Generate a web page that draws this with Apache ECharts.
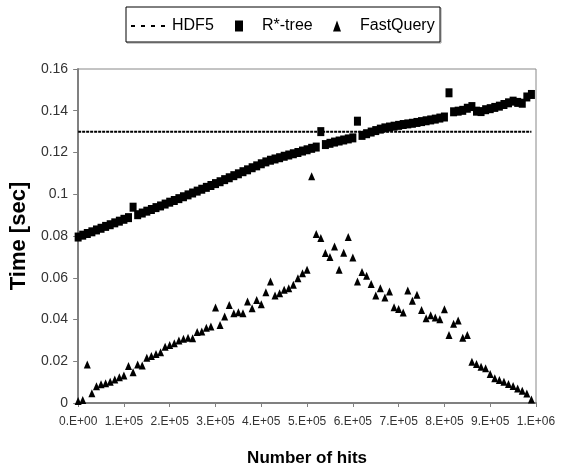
<!DOCTYPE html>
<html>
<head>
<meta charset="utf-8">
<script src="https://cdn.jsdelivr.net/npm/echarts@6/dist/echarts.min.js"></script>
<style>
html,body{margin:0;padding:0;background:#fff;}
#main{width:561px;height:472px;}
</style>
</head>
<body>
<div id="main"></div>
<script>
/* data, one point every 1E+04 hits */
var hits = [
	0, 10000, 20000, 30000, 40000, 50000, 60000, 70000, 80000, 90000,
	100000, 110000, 120000, 130000, 140000, 150000, 160000, 170000, 180000, 190000,
	200000, 210000, 220000, 230000, 240000, 250000, 260000, 270000, 280000, 290000,
	300000, 310000, 320000, 330000, 340000, 350000, 360000, 370000, 380000, 390000,
	400000, 410000, 420000, 430000, 440000, 450000, 460000, 470000, 480000, 490000,
	500000, 510000, 520000, 530000, 540000, 550000, 560000, 570000, 580000, 590000,
	600000, 610000, 620000, 630000, 640000, 650000, 660000, 670000, 680000, 690000,
	700000, 710000, 720000, 730000, 740000, 750000, 760000, 770000, 780000, 790000,
	800000, 810000, 820000, 830000, 840000, 850000, 860000, 870000, 880000, 890000,
	900000, 910000, 920000, 930000, 940000, 950000, 960000, 970000, 980000, 990000
];
var rtreeTime = [
	0.0795, 0.0804, 0.0812, 0.0820, 0.0829, 0.0837, 0.0846, 0.0854, 0.0863, 0.0871,
	0.0880, 0.0888, 0.0938, 0.0902, 0.0910, 0.0919, 0.0927, 0.0936, 0.0944, 0.0953,
	0.0962, 0.0970, 0.0979, 0.0988, 0.0997, 0.1006, 0.1015, 0.1024, 0.1033, 0.1042,
	0.1051, 0.1060, 0.1070, 0.1079, 0.1089, 0.1098, 0.1108, 0.1117, 0.1127, 0.1136,
	0.1146, 0.1155, 0.1163, 0.1169, 0.1175, 0.1182, 0.1188, 0.1194, 0.1200, 0.1207,
	0.1213, 0.1220, 0.1226, 0.1300, 0.1238, 0.1244, 0.1250, 0.1255, 0.1260, 0.1265,
	0.1270, 0.1350, 0.1282, 0.1290, 0.1298, 0.1305, 0.1312, 0.1318, 0.1322, 0.1326,
	0.1330, 0.1334, 0.1337, 0.1340, 0.1344, 0.1348, 0.1352, 0.1356, 0.1360, 0.1365,
	0.1370, 0.1486, 0.1395, 0.1398, 0.1402, 0.1412, 0.1420, 0.1398, 0.1396, 0.1405,
	0.1410, 0.1416, 0.1422, 0.1430, 0.1438, 0.1446, 0.1440, 0.1436, 0.1466, 0.1478
];
var fastqueryTime = [
	0.0010, 0.0014, 0.0185, 0.0047, 0.0080, 0.0090, 0.0095, 0.0102, 0.0113, 0.0123,
	0.0132, 0.0177, 0.0147, 0.0185, 0.0180, 0.0217, 0.0225, 0.0235, 0.0243, 0.0270,
	0.0278, 0.0286, 0.0299, 0.0308, 0.0313, 0.0310, 0.0340, 0.0342, 0.0360, 0.0366,
	0.0457, 0.0374, 0.0414, 0.0470, 0.0430, 0.0435, 0.0430, 0.0486, 0.0454, 0.0494,
	0.0473, 0.0530, 0.0582, 0.0515, 0.0526, 0.0542, 0.0550, 0.0566, 0.0598, 0.0622,
	0.0638, 0.1086, 0.0810, 0.0790, 0.0718, 0.0700, 0.0750, 0.0638, 0.0720, 0.0795,
	0.0697, 0.0582, 0.0627, 0.0610, 0.0570, 0.0515, 0.0550, 0.0505, 0.0534, 0.0459,
	0.0450, 0.0433, 0.0539, 0.0490, 0.0518, 0.0445, 0.0406, 0.0420, 0.0410, 0.0401,
	0.0449, 0.0326, 0.0380, 0.0395, 0.0312, 0.0326, 0.0198, 0.0187, 0.0174, 0.0166,
	0.0139, 0.0118, 0.0110, 0.0102, 0.0091, 0.0081, 0.0070, 0.0059, 0.0046, 0.0017
];
// HDF5 is flat, only the two ends
var hdf5Hits = [0, 990000];
var hdf5Time = [0.13, 0.13];
var xTickLabels = ['0.E+00', '1.E+05', '2.E+05', '3.E+05', '4.E+05', '5.E+05', '6.E+05', '7.E+05', '8.E+05', '9.E+05', '1.E+06'];

function pairs(xs, ys) {
	var out = [];
	for(var i = 0; i < xs.length; i++) {
		out.push([xs[i], ys[i]]);
	}
	return out;
}

var myChart = echarts.init(document.getElementById('main'));
var sans = '"Liberation Sans", Arial, sans-serif';
//legend icon for the dotted line: four short dashes
var dashIcon = 'path://M0,0h4v2h-4z M10,0h4v2h-4z M20,0h4v2h-4z M30,0h4v2h-4z';

var option = {
	animation: false,
	backgroundColor: '#fff',
	graphic: [{
		type: 'rect',
		shape: {x: 127, y: 8, width: 314, height: 35},
		style: {fill: 'none', stroke: '#999', lineWidth: 1},
		z: 1
	}, {
		type: 'rect',
		shape: {x: 126, y: 7, width: 314, height: 35},
		style: {fill: '#fff', stroke: '#000', lineWidth: 1},
		z: 2
	}],
	legend: [{
		data: [{name: 'HDF5', icon: dashIcon}],
		left: 131, top: 18, padding: 0,
		itemWidth: 34, itemHeight: 2,
		symbolKeepAspect: false,
		itemStyle: {color: '#000'},
		textStyle: {fontFamily: sans, fontSize: 16, color: '#000', padding: [0, 0, 0, 2]},
		z: 5
	}, {
		data: ['R*-tree'],
		left: 235, top: 18, padding: 0,
		itemWidth: 8, itemHeight: 11,
		symbolKeepAspect: false,
		textStyle: {fontFamily: sans, fontSize: 16, color: '#000', padding: [0, 0, 0, 14]},
		z: 5
	}, {
		data: ['FastQuery'],
		left: 333, top: 18, padding: 0,
		itemWidth: 8, itemHeight: 11,
		symbolKeepAspect: false,
		textStyle: {fontFamily: sans, fontSize: 16, color: '#000', padding: [0, 0, 0, 14]},
		z: 5
	}],
	grid: {
		left: 72, right: 25, top: 69, bottom: 69,
		show: true, borderColor: '#888', borderWidth: 1
	},
	xAxis: {
		type: 'value',
		min: 0, max: 1000000, interval: 100000,
		name: 'Number of hits',
		nameLocation: 'middle',
		nameGap: 47,
		nameTextStyle: {fontFamily: sans, fontSize: 17, fontWeight: 'bold', color: '#000'},
		axisLine: {lineStyle: {color: '#808080', width: 2}},
		axisTick: {show: true, inside: false, length: 4, lineStyle: {color: '#808080'}},
		splitLine: {show: false},
		axisLabel: {
			margin: 13,
			fontFamily: sans, fontSize: 12, color: '#333',
			formatter: function(v) {
				return xTickLabels[Math.round(v / 100000)];
			}
		}
	},
	yAxis: {
		type: 'value',
		min: 0, max: 0.16, interval: 0.02,
		name: 'Time [sec]',
		nameLocation: 'middle',
		nameRotate: 90,
		nameGap: 28,
		nameTextStyle: {fontFamily: sans, fontSize: 22, fontWeight: 'bold', color: '#000'},
		axisLine: {show: true, lineStyle: {color: '#808080', width: 2}},
		axisTick: {show: true, inside: false, length: 5, lineStyle: {color: '#808080'}},
		splitLine: {show: false},
		axisLabel: {margin: 10, fontFamily: sans, fontSize: 14, color: '#333'}
	},
	series: [{
		name: 'HDF5',
		type: 'line',
		symbol: 'none',
		lineStyle: {color: '#000', width: 2, type: [3, 1]},
		itemStyle: {color: '#000'},
		data: pairs(hdf5Hits, hdf5Time)
	}, {
		name: 'R*-tree',
		type: 'scatter',
		symbol: 'rect',
		symbolSize: [7, 9],
		itemStyle: {color: '#000', opacity: 1},
		data: pairs(hits, rtreeTime)
	}, {
		name: 'FastQuery',
		type: 'scatter',
		symbol: 'triangle',
		symbolSize: [7, 8],
		itemStyle: {color: '#000', opacity: 1},
		data: pairs(hits, fastqueryTime)
	}]
};
myChart.setOption(option);
</script>
</body>
</html>
